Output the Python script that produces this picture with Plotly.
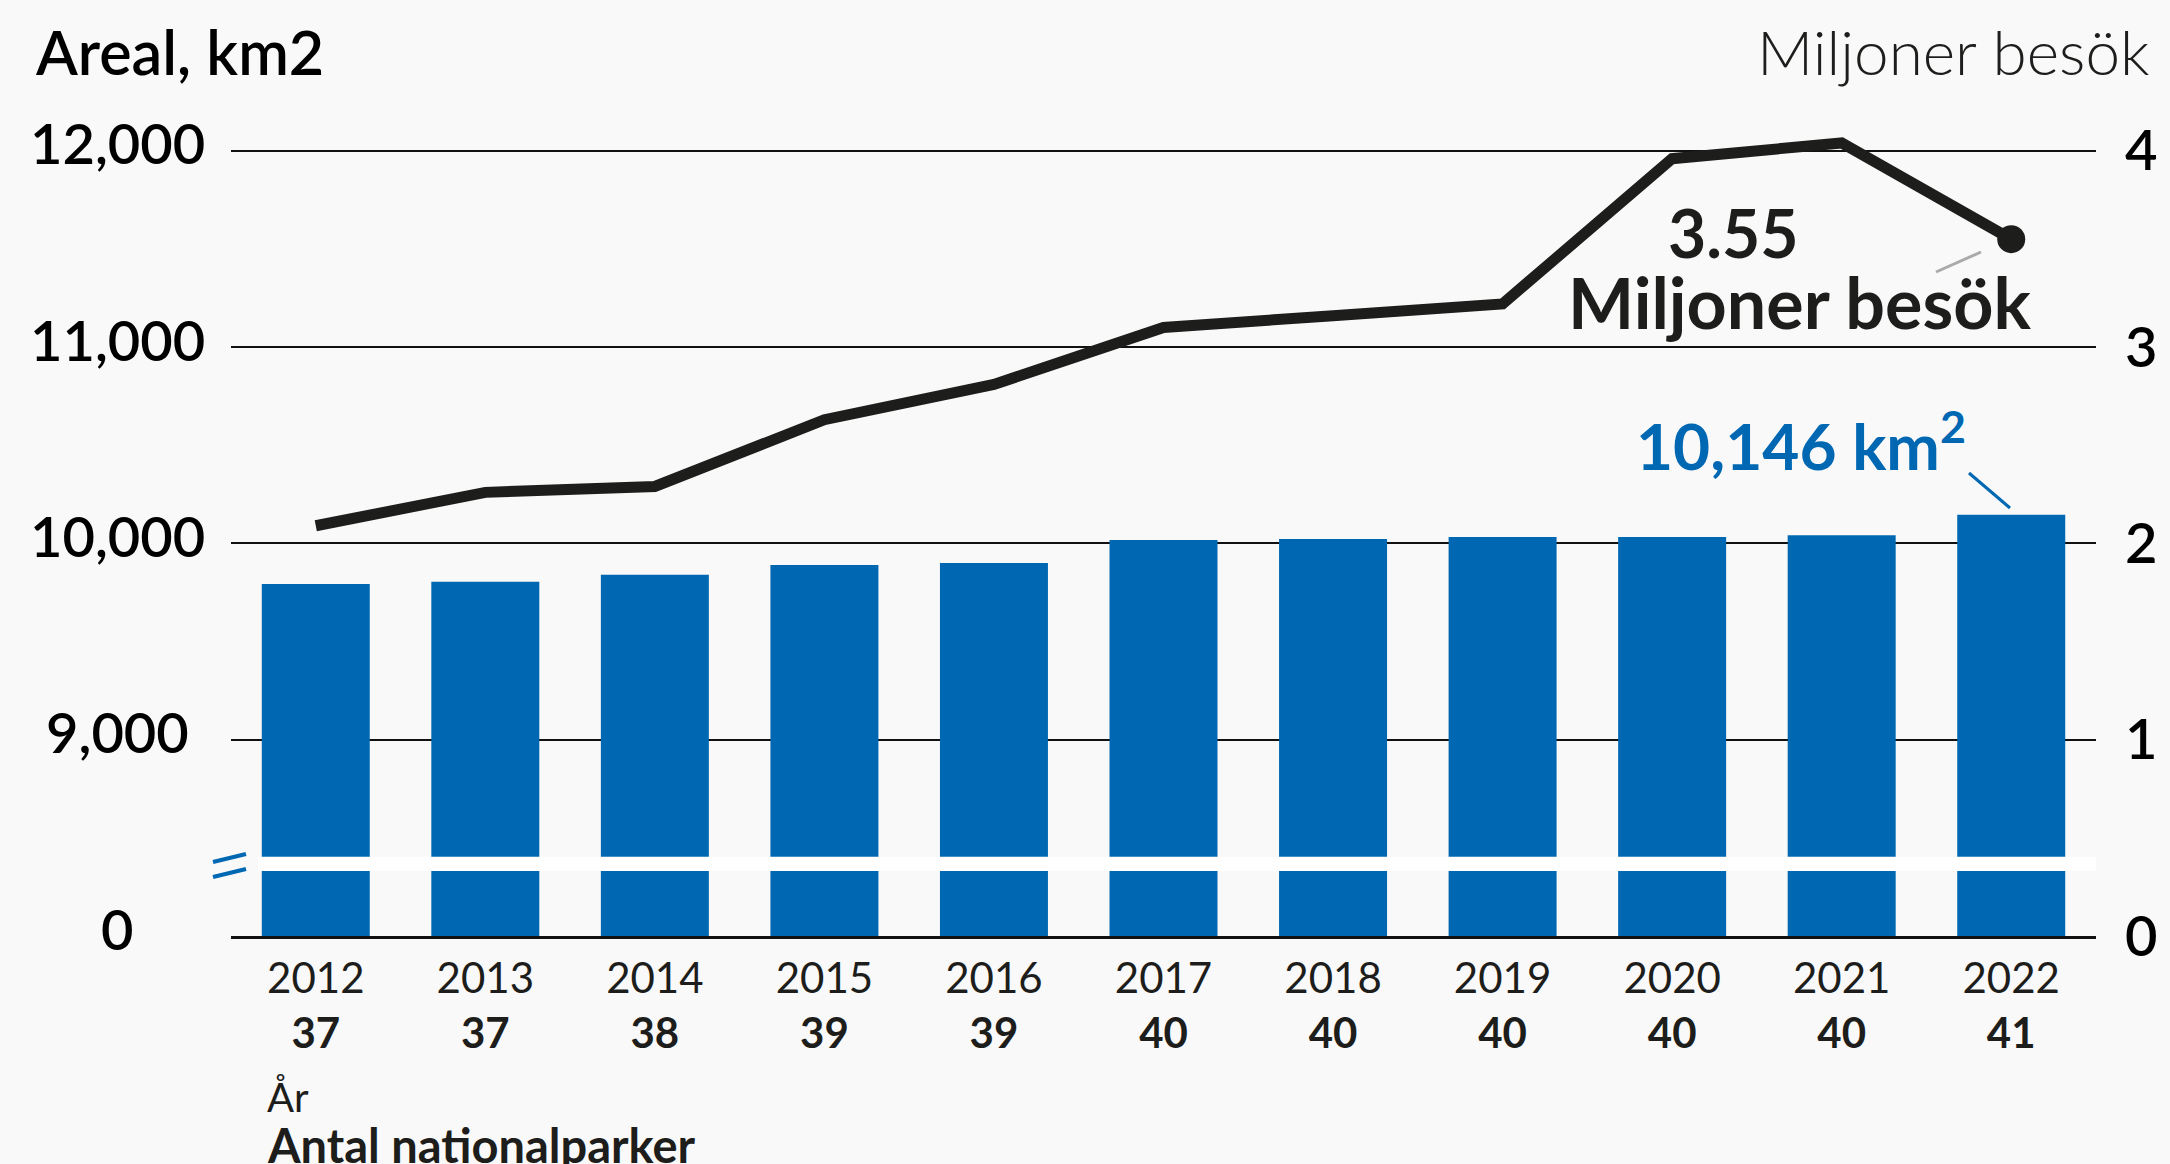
import plotly.graph_objects as go

# ---------------- data ----------------
years = ["2012", "2013", "2014", "2015", "2016", "2017", "2018", "2019", "2020", "2021", "2022"]
parks = [37, 37, 38, 39, 39, 40, 40, 40, 40, 40, 41]
area_km2 = [9793, 9805, 9840, 9890, 9900, 10017, 10022, 10032, 10032, 10042, 10146]
visits_mil = [2.09, 2.26, 2.29, 2.63, 2.81, 3.10, 3.16, 3.22, 3.96, 4.04, 3.55]

left_tickvals = [8000, 9000, 10000, 11000, 12000]
left_ticktext = ["0", "9,000", "10,000", "11,000", "12,000"]
right_tickvals = [0, 1, 2, 3, 4]
right_ticktext = ["0", "1", "2", "3", "4"]

# ---------------- styling ----------------
BLUE = "#0068b2"
DARK = "#1d1d1b"
BG = "#f9f9f9"
FONT = "Lato"

W, H = 2170, 1164
L, R, T, B = 231, 2096, 100, 936          # plot area in pixels
PX_PER_UNIT = 196.3                        # pixels per 1000 km2 / per 1 million
y_lo = 8000
y_hi = y_lo + (B - T) / PX_PER_UNIT * 1000
y2_hi = (B - T) / PX_PER_UNIT


def px_x(px):
    return (px - L) / (R - L)


def px_y(py):
    return (B - py) / (B - T)


ticktext_x = [f"{y}<br><b>{p}</b>" for y, p in zip(years, parks)]

fig = go.Figure()

fig.add_trace(go.Bar(
    x=years, y=area_km2, marker=dict(color=BLUE, line=dict(width=0)),
    hoverinfo="skip", showlegend=False,
))

fig.add_trace(go.Scatter(
    x=years, y=visits_mil, yaxis="y2", mode="lines",
    line=dict(color=DARK, width=11),
    hoverinfo="skip", showlegend=False,
))
fig.add_trace(go.Scatter(
    x=years[-1:], y=visits_mil[-1:], yaxis="y2", mode="markers",
    marker=dict(size=28, color=DARK, opacity=1, line=dict(width=0)),
    hoverinfo="skip", showlegend=False,
))

shapes = [
    # axis-break band
    dict(type="rect", xref="paper", yref="y", x0=px_x(258), x1=1.0, y0=8331, y1=8404,
         fillcolor="#ffffff", line=dict(width=0), layer="above"),
    # break marks "="
    dict(type="line", xref="paper", yref="paper", x0=px_x(213), y0=px_y(862), x1=px_x(246), y1=px_y(854),
         line=dict(color=BLUE, width=4)),
    dict(type="line", xref="paper", yref="paper", x0=px_x(213), y0=px_y(877), x1=px_x(246), y1=px_y(869),
         line=dict(color=BLUE, width=4)),
    # connector for visits label
    dict(type="line", xref="paper", yref="paper", x0=px_x(1936), y0=px_y(272), x1=px_x(1981), y1=px_y(252),
         line=dict(color="#aaaaaa", width=3)),
    # connector for area label
    dict(type="line", xref="paper", yref="paper", x0=px_x(1969), y0=px_y(473), x1=px_x(2010), y1=px_y(508),
         line=dict(color=BLUE, width=3)),
]

annotations = []
for v, t in zip(left_tickvals, left_ticktext):
    annotations.append(dict(
        x=px_x(117), xref="paper", y=v, yref="y", text=t, showarrow=False,
        xanchor="center", yanchor="middle", yshift=8,
        font=dict(family=FONT, size=56, color="#000000", weight=600),
    ))

annotations += [
    dict(x=px_x(33), y=px_y(51), xref="paper", yref="paper", text="Areal, km2", showarrow=False,
         xanchor="left", yanchor="middle", font=dict(family=FONT, size=61, color="#000000", weight=600)),
    dict(x=px_x(2152), y=px_y(51), xref="paper", yref="paper", text="Miljoner besök", showarrow=False,
         xanchor="right", yanchor="middle", font=dict(family=FONT, size=62, color=DARK, weight=300)),
    dict(x=px_x(1733), y=px_y(232), xref="paper", yref="paper", text=f"<b>{visits_mil[-1]:.2f}</b>",
         showarrow=False, xanchor="center", yanchor="middle",
         font=dict(family=FONT, size=66, color=DARK)),
    dict(x=px_x(1799), y=px_y(302), xref="paper", yref="paper", text="<b>Miljoner besök</b>",
         showarrow=False, xanchor="center", yanchor="middle",
         font=dict(family=FONT, size=70, color=DARK)),
    dict(x=px_x(1801), y=px_y(441), xref="paper", yref="paper",
         text=f"<b>{area_km2[-1]:,} km<sup>2</sup></b>",
         showarrow=False, xanchor="center", yanchor="middle",
         font=dict(family=FONT, size=64, color=BLUE)),
    dict(x=px_x(265), y=px_y(1097), xref="paper", yref="paper", text="År",
         showarrow=False, xanchor="left", yanchor="middle",
         font=dict(family=FONT, size=40, color=DARK)),
    dict(x=px_x(265), y=px_y(1145), xref="paper", yref="paper", text="<b>Antal nationalparker</b>",
         showarrow=False, xanchor="left", yanchor="middle",
         font=dict(family=FONT, size=47, color=DARK)),
]

fig.update_layout(
    width=W, height=H,
    margin=dict(l=L, r=W - R, t=T, b=H - B, pad=0),
    paper_bgcolor=BG, plot_bgcolor=BG,
    bargap=0.363,
    showlegend=False,
    font=dict(family=FONT, color=DARK),
    xaxis=dict(
        type="category", categoryorder="array", categoryarray=years,
        range=[-0.5, len(years) - 0.5],
        tickvals=years, ticktext=ticktext_x,
        tickfont=dict(family=FONT, size=42, color=DARK),
        ticks="", showgrid=False, zeroline=False,
        showline=True, linecolor="#111111", linewidth=3,
        ticklabelstandoff=4,
    ),
    yaxis=dict(
        range=[y_lo, y_hi], tickvals=left_tickvals, ticktext=left_ticktext,
        showticklabels=False, showgrid=True, gridcolor="#111111", gridwidth=2,
        zeroline=False, showline=False, ticks="", fixedrange=True,
    ),
    yaxis2=dict(
        overlaying="y", side="right", range=[0, y2_hi],
        tickvals=right_tickvals, ticktext=right_ticktext,
        tickfont=dict(family=FONT, size=56, color="#000000", weight=600),
        showgrid=False, zeroline=False, showline=False, ticks="",
        ticklabelstandoff=28,
    ),
    shapes=shapes,
    annotations=annotations,
)

fig.write_html(
    "out.html",
    config={"displayModeBar": False},
    post_script="document.body.style.margin='0';document.body.style.padding='0';"
                "document.body.style.background='" + BG + "';",
)
